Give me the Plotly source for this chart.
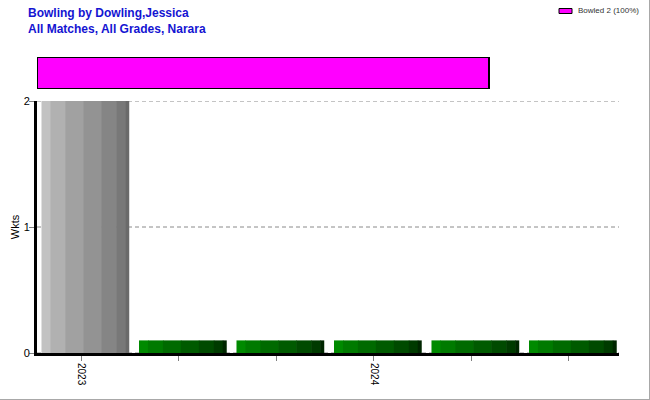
import plotly.graph_objects as go

# ---- data ----
slot_index = [0, 1, 2, 3, 4, 5]
tick_labels = ["2023", "", "", "2024", "", ""]
wickets = [2, 0.1, 0.1, 0.1, 0.1, 0.1]
slot_palette = ["grey", "green", "green", "green", "green", "green"]
y_ticks = [0, 1, 2]

dismissal_types = ["Bowled"]
dismissal_counts = [2]
dismissal_pcts = [100]

title_lines = ["Bowling by Dowling,Jessica", "All Matches, All Grades, Narara"]

# ---- style ----
shades = {
    "grey": ["#c2c2c2", "#b1b1b1", "#a1a1a1", "#939393", "#858585", "#787878", "#6a6a6a"],
    "green": ["#008a00", "#007a00", "#006a00", "#005a00", "#004a00", "#003a00", "#002600"],
}
band_weights = [9, 15, 18, 18, 15, 9, 4]
bar_width = 0.9
bar_offset = -0.41

L, R, T, B = 37, 31, 57, 47
W, H = 650, 400
pw, ph = W - L - R, H - T - B


def px_x(x):
    return (x - L) / pw


def px_y(y):
    return (H - B - y) / ph


fig = go.Figure()
total = sum(band_weights)
pos = bar_offset
for i, wgt in enumerate(band_weights):
    w = bar_width * wgt / total
    fig.add_bar(
        x=slot_index, y=wickets,
        width=w + (0.006 if i < len(band_weights) - 1 else 0), offset=pos,
        marker=dict(color=[shades[p][i] for p in slot_palette], line_width=0),
        showlegend=False, hoverinfo="skip",
    )
    pos += w

for t, c, p in zip(dismissal_types, dismissal_counts, dismissal_pcts):
    fig.add_bar(
        x=[p], y=[0], orientation="h", xaxis="x2", yaxis="y2", width=1,
        marker=dict(color="#ff00ff", line=dict(color="black", width=2)),
        showlegend=False, hoverinfo="skip",
    )

legend_text = ", ".join(f"{t} {c} ({p}%)" for t, c, p in zip(dismissal_types, dismissal_counts, dismissal_pcts))

grid_shapes = [
    dict(type="line", xref="paper", yref="y", x0=0, x1=px_x(619), y0=v, y1=v,
         layer="below", line=dict(color="#8a8a8a", width=1, dash="4px,3px"))
    for v in y_ticks
]

fig.update_layout(
    width=W, height=H,
    margin=dict(l=L, r=R, t=T, b=B, pad=0, autoexpand=False),
    paper_bgcolor="white", plot_bgcolor="white",
    barmode="overlay",
    font=dict(family="Liberation Sans, Arial, sans-serif", size=11, color="black"),
    xaxis=dict(
        range=[-0.456, -0.456 + pw / 97.5],
        tickmode="array", tickvals=slot_index, ticktext=tick_labels,
        tickangle=90, ticks="outside", ticklen=5, tickcolor="#808080",
        tickfont=dict(size=10), automargin=False,
        showline=True, linecolor="black", linewidth=3,
        showgrid=False, zeroline=False,
    ),
    yaxis=dict(
        domain=[0, (H - B - 101) / ph], range=[0, 2],
        tickmode="array", tickvals=y_ticks,
        ticks="outside", ticklen=5, tickcolor="#808080", automargin=False,
        ticklabelstandoff=-3,
        showline=True, linecolor="black", linewidth=3,
        showgrid=False, zeroline=False,
        title=dict(text="Wkts", standoff=2, font=dict(size=11)),
    ),
    xaxis2=dict(domain=[0, 1], anchor="y2", range=[0, 100 * pw / 452], visible=False),
    yaxis2=dict(domain=[px_y(89), 1], anchor="x2", range=[-0.5, 0.5], visible=False),
    shapes=grid_shapes + [
        dict(type="rect", xref="paper", yref="paper",
             x0=px_x(559), x1=px_x(572), y0=px_y(13.5), y1=px_y(8.5),
             fillcolor="#ff00ff", line=dict(color="black", width=1)),
        dict(type="line", xref="paper", yref="paper",
             x0=px_x(649.5), x1=px_x(649.5), y0=px_y(0), y1=px_y(400),
             line=dict(color="#a8a8a8", width=1)),
        dict(type="line", xref="paper", yref="paper",
             x0=px_x(0), x1=px_x(650), y0=px_y(399.5), y1=px_y(399.5),
             line=dict(color="#a8a8a8", width=1)),
    ],
    annotations=[
        dict(text="<b>" + "<br>".join(title_lines) + "</b>", xref="paper", yref="paper",
             x=px_x(26), y=px_y(4), xanchor="left", yanchor="top", align="left",
             showarrow=False, font=dict(size=12, color="#1414d2")),
        dict(text=legend_text, xref="paper", yref="paper",
             x=px_x(576), y=px_y(11), xanchor="left", yanchor="middle",
             showarrow=False, font=dict(size=8, color="#333333")),
    ],
)

fig.write_html("out.html", config={"displayModeBar": False},
               post_script="document.body.style.margin='0';")
